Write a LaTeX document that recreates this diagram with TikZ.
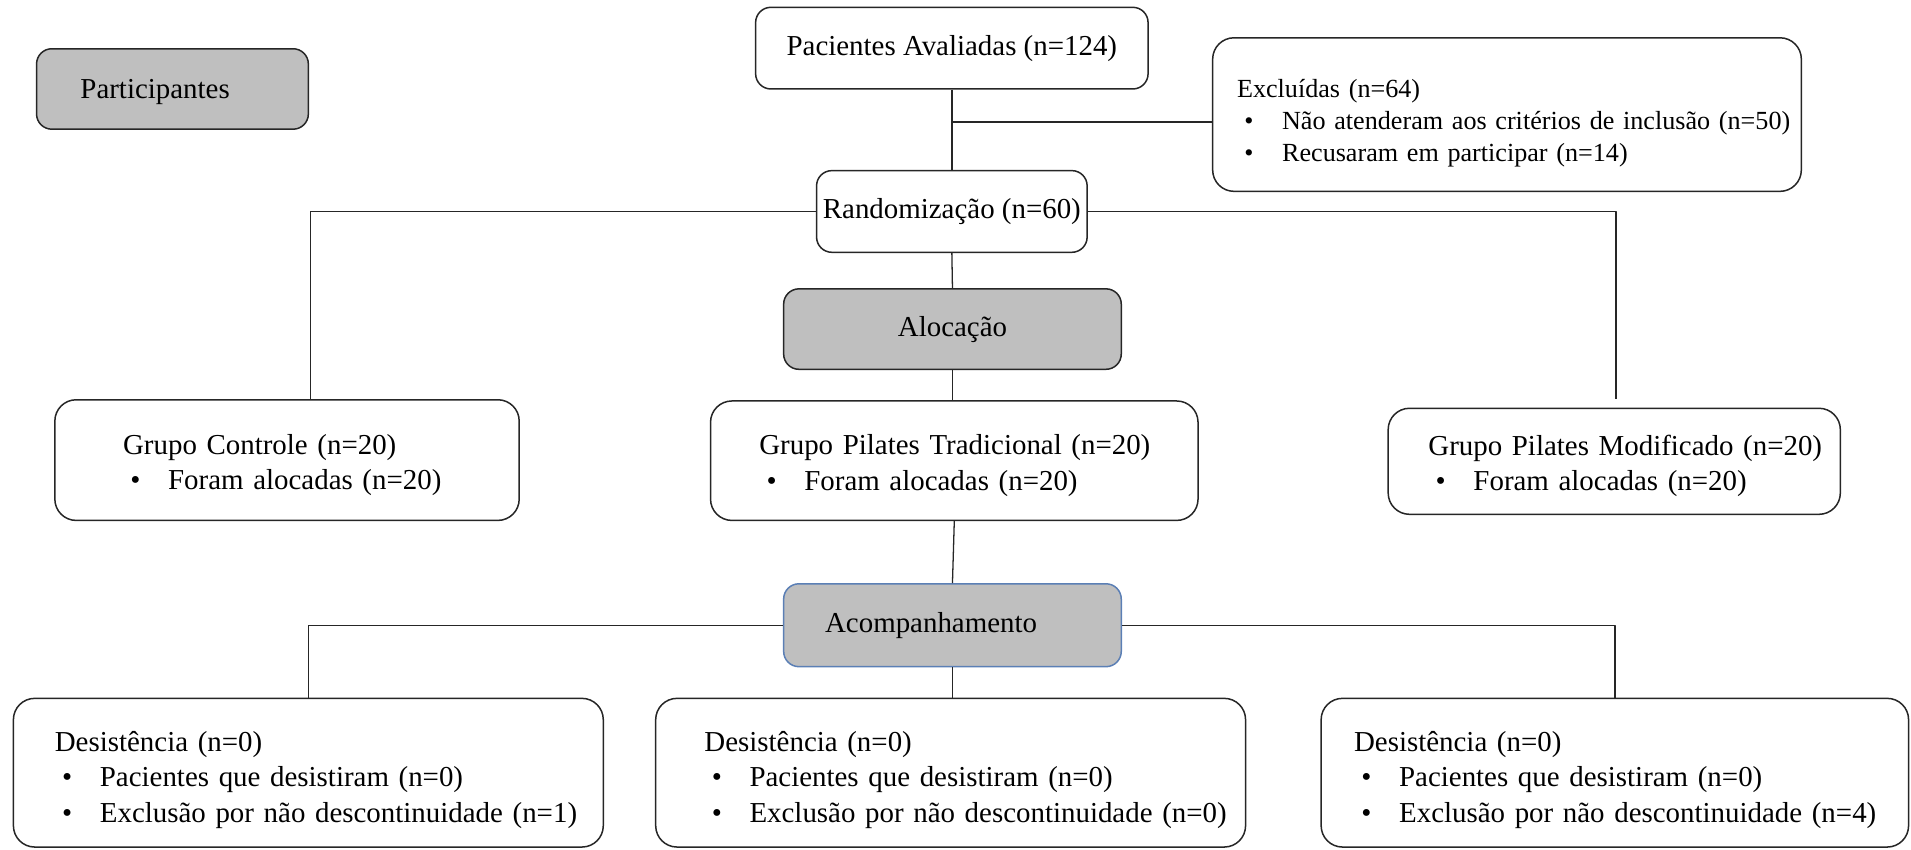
\documentclass[tikz,border=0pt]{standalone}
\usepackage{fontspec}
\setmainfont{Liberation Serif}
\definecolor{cinza}{HTML}{BFBFBF}
\definecolor{borda}{HTML}{5B7FB5}
\newcommand{\itm}[1]{\mbox{\hspace*{0.12cm}\makebox[0.62cm][l]{\textbullet}#1}}
\newcommand{\topo}[1]{\rule{0pt}{#1}}
\begin{document}
\begin{tikzpicture}[line join=round,font=\fontsize{13.5}{16.5}\selectfont,
	caixa/.style={draw=black!85,line width=0.7pt,rounded corners=0.25cm,fill=white,inner sep=0pt,align=center},
	escura/.style={caixa,fill=cinza},
	lista/.style={caixa,align=left,rounded corners=0.35cm},
	liga/.style={draw=black!85,line width=0.6pt}]
			\useasboundingbox (0,0) rectangle (31.36,-13.94);
			\node[escura,align=left,minimum width=4.46cm,minimum height=1.32cm,text width=3.02cm,inner xsep=0.72cm] (part) at (2.83,-1.46) {\topo{0.41cm}Participantes};
			\node[caixa,minimum width=6.44cm,minimum height=1.34cm] (pac) at (15.62,-0.79) {Pacientes Avaliadas (n=124)};
			\node[lista,font=\fontsize{12.2}{14.8}\selectfont,minimum width=9.66cm,minimum height=2.52cm,text width=8.86cm,inner xsep=0.4cm] (exc) at (24.73,-1.88)
			{\topo{0.58cm}Excluídas (n=64)\\ \itm{Não atenderam aos critérios de inclusão (n=50)}\\ \itm{Recusaram em participar (n=14)}};
			\node[caixa,minimum width=4.44cm,minimum height=1.34cm] (rand) at (15.62,-3.47) {Randomização (n=60)};
			\node[escura,minimum width=5.54cm,minimum height=1.32cm] (aloc) at (15.63,-5.40) {Alocação};
			\node[lista,minimum width=7.62cm,minimum height=1.98cm,text width=5.38cm,inner xsep=1.12cm] (gc) at (4.71,-7.55)
			{\topo{0.49cm}Grupo Controle (n=20)\\ \itm{Foram alocadas (n=20)}};
			\node[lista,minimum width=8.0cm,minimum height=1.96cm,text width=6.4cm,inner xsep=0.8cm] (gt) at (15.66,-7.56)
			{\topo{0.49cm}\mbox{Grupo Pilates Tradicional (n=20)}\\ \itm{Foram alocadas (n=20)}};
			\node[lista,minimum width=7.42cm,minimum height=1.74cm,text width=6.1cm,inner xsep=0.66cm] (gm) at (26.49,-7.57)
			{\topo{0.49cm}\mbox{Grupo Pilates Modificado (n=20)}\\ \itm{Foram alocadas (n=20)}};
			\node[escura,draw=borda,align=left,minimum width=5.54cm,minimum height=1.36cm,text width=4.18cm,inner xsep=0.68cm] (acomp) at (15.63,-10.26) {Acompanhamento};
			\node[lista,minimum width=9.68cm,minimum height=2.44cm,text width=8.32cm,inner xsep=0.68cm] (d1) at (5.06,-12.68)
			{\topo{0.57cm}Desistência (n=0)\\ \itm{Pacientes que desistiram (n=0)}\\ \itm{Exclusão por não descontinuidade (n=1)}};
			\node[lista,minimum width=9.68cm,minimum height=2.44cm,text width=8.08cm,inner xsep=0.8cm] (d2) at (15.6,-12.68)
			{\topo{0.57cm}Desistência (n=0)\\ \itm{Pacientes que desistiram (n=0)}\\ \itm{Exclusão por não descontinuidade (n=0)}};
			\node[lista,minimum width=9.64cm,minimum height=2.44cm,text width=8.56cm,inner xsep=0.54cm] (d3) at (26.5,-12.68)
			{\topo{0.57cm}Desistência (n=0)\\ \itm{Pacientes que desistiram (n=0)}\\ \itm{Exclusão por não descontinuidade (n=4)}};
			\coordinate (excj) at (15.62,-2.0);
			\coordinate (gmk) at (26.52,-6.54);
			\draw[liga] (pac.south) -- (rand.north);
			\draw[liga] (excj) -- (excj -| exc.west);
			\draw[liga] (rand.west) -| ([xshift=0.39cm]gc.north);
			\draw[liga] (rand.east) -| (gmk);
			\draw[liga] (rand.south) -- (aloc.north);
			\draw[liga] (aloc.south) -- (aloc.south |- gt.north);
			\draw[liga] (gt.south) -- (acomp.north);
			\draw[liga] (acomp.west) -| (d1.north);
			\draw[liga] (acomp.east) -| (d3.north);
			\draw[liga] (acomp.south) -- (acomp.south |- d2.north);
\end{tikzpicture}
\end{document}
